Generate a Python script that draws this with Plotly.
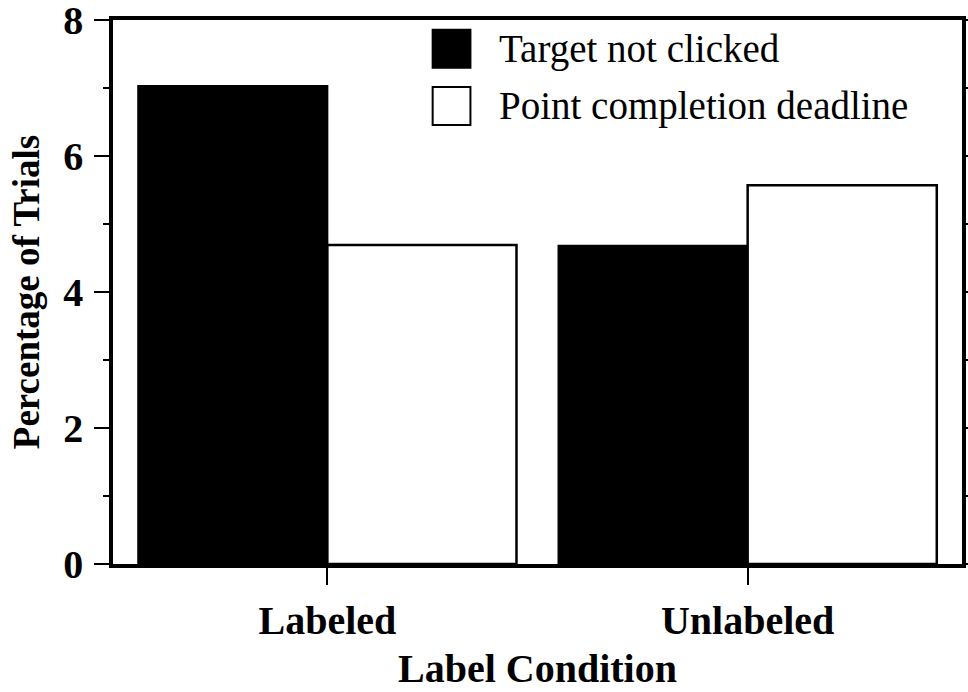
import plotly.graph_objects as go

condicoes = ["Labeled", "Unlabeled"]
nao_clicado = [7.03, 4.68]
prazo_conclusao = [4.69, 5.57]
nomes_series = ["Target not clicked", "Point completion deadline"]
ticks_y = [0, 2, 4, 6, 8]

fonte = "Liberation Serif"

fig = go.Figure()
fig.add_trace(go.Bar(x=condicoes, y=nao_clicado, name=nomes_series[0],
                     marker=dict(color="black", line=dict(color="black", width=2))))
fig.add_trace(go.Bar(x=condicoes, y=prazo_conclusao, name=nomes_series[1],
                     marker=dict(color="white", line=dict(color="black", width=2.5))))

fig.update_layout(
    barmode="group", bargap=0.1, bargroupgap=0,
    width=968, height=692,
    margin=dict(l=113, r=6, t=20, b=128),
    plot_bgcolor="white", paper_bgcolor="white",
    showlegend=False,
    font=dict(family=fonte, color="black"),
)

fig.update_xaxes(
    type="category", range=[-0.51, 1.51], automargin=False,
    showline=True, linewidth=3.5, linecolor="black", mirror=True,
    ticks="outside", ticklen=17, tickwidth=2, tickcolor="black",
    tickfont=dict(family=fonte, size=40), ticklabelstandoff=1,
)
fig.update_xaxes(tickvals=condicoes, ticktext=["<b>%s</b>" % c for c in condicoes])

# título do eixo x como anotação, para posicionar com precisão
fig.add_annotation(text="<b>Label Condition</b>", xref="paper", yref="paper",
                   x=0.5, y=-0.193, xanchor="center", yanchor="middle", showarrow=False,
                   borderpad=0, font=dict(family=fonte, size=40, color="black"))

fig.update_yaxes(
    range=[0, 8], tickvals=ticks_y, ticktext=["<b>%d</b>" % v for v in ticks_y],
    automargin=False, ticklabeloverflow="allow",
    showline=True, linewidth=3.5, linecolor="black", mirror="ticks",
    showgrid=False, zeroline=False,
    ticks="outside", ticklen=15, tickwidth=2, tickcolor="black",
    tickfont=dict(family=fonte, size=40), ticklabelstandoff=3,
    minor=dict(dtick=1, ticks="outside", ticklen=6, tickwidth=2, tickcolor="black"),
    title=dict(text="<b>Percentage of Trials</b>", font=dict(family=fonte, size=37), standoff=13),
)

# legenda desenhada à mão (quadrados grandes como no original)
cores_legenda = ["black", "white"]
y_legenda = [0.947, 0.842]
for nome, cor, yc in zip(nomes_series, cores_legenda, y_legenda):
    fig.add_shape(type="rect", xref="paper", yref="paper",
                  x0=0.3765, x1=0.421, y0=yc - 0.035, y1=yc + 0.035,
                  fillcolor=cor, line=dict(color="black", width=2))
    fig.add_annotation(text=nome, xref="paper", yref="paper", x=0.452, y=yc,
                       xanchor="left", yanchor="middle", showarrow=False,
                       font=dict(family=fonte, size=39, color="black"))

# tira a margem padrão do body para a figura ocupar a janela toda
fig.write_html("out.html", config={"displayModeBar": False},
               post_script="document.body.style.margin='0';document.body.style.overflow='hidden';")
